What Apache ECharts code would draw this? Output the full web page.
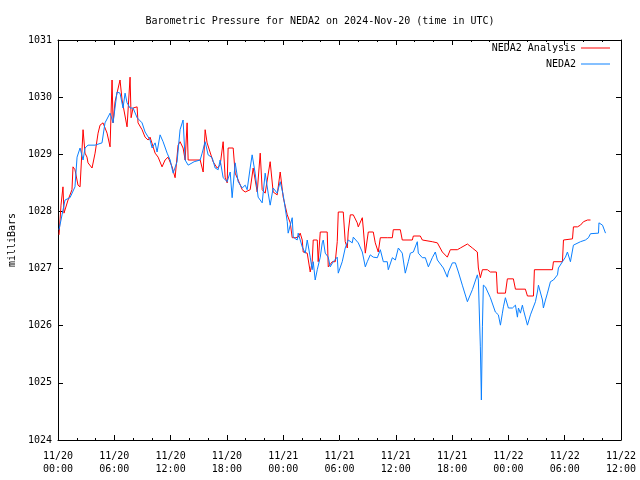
<!DOCTYPE html>
<html>
<head>
<meta charset="utf-8">
<script src="https://cdn.jsdelivr.net/npm/echarts@6/dist/echarts.min.js"></script>
<style>html,body{margin:0;padding:0;background:#fff}#c{width:640px;height:480px}</style>
</head>
<body>
<div id="c"></div>
<script>
const titleText = 'Barometric Pressure for NEDA2 on 2024-Nov-20 (time in UTC)';
const seriesNames = ['NEDA2 Analysis', 'NEDA2'];
const xTickLabels = ['11/20\n00:00','11/20\n06:00','11/20\n12:00','11/20\n18:00','11/21\n00:00','11/21\n06:00','11/21\n12:00','11/21\n18:00','11/22\n00:00','11/22\n06:00','11/22\n12:00'];
const yTicks = [1024,1025,1026,1027,1028,1029,1030,1031];

// hours since 2024-11-20 00:00 UTC
const anaHours = [0.11,0.32,0.53,0.64,1.07,1.49,1.60,1.81,2.13,2.35,2.67,2.88,3.09,3.20,3.63,3.95,4.27,4.48,4.80,5.23,5.55,5.76,5.87,6.08,6.61,6.83,7.36,7.68,7.79,8.00,8.43,8.53,8.96,9.28,9.60,9.81,10.35,10.67,11.09,11.41,11.73,12.16,12.48,12.80,13.01,13.33,13.55,13.76,13.87,15.15,15.47,15.68,15.89,16.53,16.96,17.28,17.60,17.81,18.03,18.13,18.67,18.88,19.20,19.63,19.95,20.48,20.80,21.23,21.55,21.76,22.08,22.61,22.93,23.36,23.68,24.00,24.43,24.75,24.96,25.28,25.60,25.81,26.03,26.13,26.56,26.88,27.09,27.20,27.63,27.73,27.95,28.69,28.80,29.23,29.55,29.76,29.87,30.40,30.61,30.83,30.93,31.15,31.47,31.89,32.00,32.43,32.53,32.75,32.96,33.07,33.60,33.81,34.13,34.35,35.09,35.63,35.73,36.48,36.69,37.76,37.87,38.61,38.83,39.89,40.43,40.96,41.49,41.81,42.56,42.88,43.63,44.16,44.69,44.80,45.01,45.23,45.76,46.08,46.72,46.83,47.68,47.89,48.53,48.75,49.81,50.03,50.67,50.77,52.69,52.80,53.76,53.87,54.83,54.93,55.36,55.68,56.00,56.43,56.75];
const anaValues = [1027.59,1028.11,1028.43,1027.97,1028.20,1028.38,1028.78,1028.73,1028.46,1028.43,1029.43,1029.02,1028.95,1028.85,1028.76,1029.02,1029.37,1029.51,1029.55,1029.37,1029.13,1030.30,1029.55,1029.92,1030.30,1029.95,1029.48,1030.35,1029.64,1029.81,1029.83,1029.55,1029.43,1029.30,1029.25,1029.30,1029.02,1028.95,1028.78,1028.90,1028.95,1028.78,1028.59,1029.16,1029.22,1029.11,1028.90,1029.55,1028.90,1028.90,1028.69,1029.43,1029.20,1028.87,1028.76,1028.81,1029.22,1028.60,1028.50,1029.11,1029.11,1028.67,1028.55,1028.38,1028.34,1028.38,1028.76,1028.34,1029.02,1028.38,1028.32,1028.87,1028.34,1028.29,1028.69,1028.25,1027.94,1027.80,1027.54,1027.54,1027.55,1027.62,1027.50,1027.29,1027.27,1026.94,1027.12,1027.50,1027.50,1027.12,1027.64,1027.64,1027.03,1027.12,1027.12,1027.47,1027.99,1027.99,1027.47,1027.36,1027.64,1027.94,1027.94,1027.80,1027.73,1027.89,1027.71,1027.27,1027.24,1027.64,1027.64,1027.45,1027.29,1027.54,1027.54,1027.54,1027.68,1027.68,1027.50,1027.50,1027.57,1027.57,1027.50,1027.47,1027.45,1027.29,1027.20,1027.33,1027.33,1027.36,1027.43,1027.36,1027.29,1027.01,1026.84,1026.98,1026.98,1026.94,1026.94,1026.57,1026.57,1026.82,1026.82,1026.64,1026.64,1026.52,1026.52,1026.98,1026.98,1027.12,1027.12,1027.50,1027.52,1027.73,1027.73,1027.76,1027.82,1027.85,1027.85];

const obsHours = [0.11,0.43,0.75,1.28,1.81,2.03,2.35,2.67,2.88,3.20,3.95,4.69,5.01,5.55,5.87,6.29,6.61,6.93,7.15,7.36,7.68,8.00,8.43,8.96,9.28,9.81,10.03,10.35,10.56,10.88,11.20,11.63,11.95,12.27,12.69,13.01,13.33,13.55,13.87,14.51,15.15,15.36,15.68,16.00,16.43,16.75,17.07,17.28,17.60,18.03,18.35,18.56,18.88,19.20,19.63,19.95,20.16,20.48,20.69,21.01,21.33,21.76,22.08,22.40,22.61,22.93,23.36,23.68,24.00,24.43,24.53,24.96,25.07,25.49,25.60,26.03,26.35,26.56,26.88,27.09,27.20,27.41,27.63,27.95,28.16,28.27,28.48,28.80,29.01,29.33,29.76,29.87,30.29,30.61,30.93,31.36,31.47,32.00,32.43,32.75,32.96,33.28,33.60,34.03,34.35,34.67,35.09,35.20,35.63,35.95,36.27,36.69,37.01,37.33,37.55,37.87,38.29,38.40,38.83,39.15,39.47,39.89,40.21,40.43,41.07,41.49,41.60,42.03,42.35,42.67,43.09,43.63,44.16,44.69,44.80,45.01,45.12,45.23,45.33,45.55,46.08,46.61,46.93,47.15,47.36,47.47,47.68,48.00,48.43,48.75,48.96,49.07,49.28,49.49,49.60,50.03,50.35,50.56,50.88,51.09,51.20,51.63,51.73,51.95,52.16,52.48,52.80,53.23,53.33,53.76,54.08,54.29,54.61,54.93,55.68,56.21,56.53,56.75,57.60,57.65,57.81,58.03,58.35];
const obsValues = [1027.68,1027.94,1028.20,1028.24,1028.43,1028.95,1029.11,1028.90,1029.11,1029.16,1029.16,1029.20,1029.55,1029.72,1029.55,1030.09,1030.07,1029.81,1030.07,1029.90,1029.81,1029.81,1029.64,1029.55,1029.39,1029.25,1029.11,1029.20,1029.04,1029.34,1029.22,1029.02,1028.90,1028.67,1028.87,1029.43,1029.60,1028.90,1028.81,1028.87,1028.90,1029.02,1029.22,1028.99,1028.94,1028.76,1028.73,1028.90,1028.59,1028.52,1028.69,1028.24,1028.85,1028.52,1028.41,1028.46,1028.38,1028.76,1028.99,1028.67,1028.25,1028.15,1028.67,1028.32,1028.11,1028.41,1028.32,1028.52,1028.29,1027.82,1027.62,1027.89,1027.55,1027.50,1027.62,1027.38,1027.27,1027.50,1027.20,1026.98,1027.12,1026.80,1026.98,1027.20,1027.45,1027.50,1027.27,1027.20,1027.03,1027.12,1027.20,1026.92,1027.12,1027.36,1027.50,1027.45,1027.55,1027.45,1027.29,1027.03,1027.12,1027.24,1027.20,1027.19,1027.33,1027.12,1027.12,1026.98,1027.19,1027.15,1027.36,1027.27,1026.92,1027.12,1027.27,1027.29,1027.47,1027.27,1027.19,1027.19,1027.03,1027.19,1027.29,1027.15,1027.01,1026.85,1026.94,1027.10,1027.10,1026.94,1026.71,1026.42,1026.63,1026.89,1026.80,1025.63,1024.70,1025.98,1026.71,1026.68,1026.49,1026.24,1026.19,1026.01,1026.22,1026.33,1026.49,1026.31,1026.31,1026.36,1026.15,1026.31,1026.22,1026.36,1026.28,1026.01,1026.19,1026.22,1026.42,1026.59,1026.71,1026.45,1026.31,1026.45,1026.57,1026.77,1026.80,1026.89,1027.01,1027.12,1027.20,1027.29,1027.12,1027.41,1027.47,1027.50,1027.54,1027.61,1027.62,1027.80,1027.82,1027.76,1027.62];

const FONT = 'DejaVu Sans Mono';
const COLORS = ['#ff0000', '#0a80ff'];
const zip = (a, b) => a.map((h, i) => [h, b[i]]);
const LEG_ICON = 'path://M0,0M29,12M0,5.5L29,5.5L29,6.5L0,6.5Z';

const chart = echarts.init(document.getElementById('c'), null, {renderer: 'canvas'});
const xCommon = {
  type: 'value', min: 0, max: 60, interval: 6,
  axisLine: {show: true, onZero: false, lineStyle: {color: '#000', width: 1}},
  axisTick: {show: true, inside: true, length: 5, lineStyle: {color: '#000'}},
  minorTick: {show: true, splitNumber: 3, length: 2, lineStyle: {color: '#000'}},
  splitLine: {show: false}
};
const yCommon = {
  type: 'value', min: yTicks[0], max: yTicks[yTicks.length - 1], interval: 1,
  axisLine: {show: true, onZero: false, lineStyle: {color: '#000', width: 1}},
  axisTick: {show: true, inside: true, length: 5, lineStyle: {color: '#000'}},
  splitLine: {show: false}
};
chart.setOption({
  animation: false,
  backgroundColor: '#fff',
  textStyle: {fontFamily: FONT},
  title: {
    text: titleText, left: 'center', top: 11,
    textStyle: {fontFamily: FONT, fontSize: 10, fontWeight: 'normal', color: '#000'}
  },
  legend: {
    orient: 'vertical', right: 25, top: 37, align: 'right',
    itemWidth: 29, itemHeight: 12, itemGap: 4,
    textStyle: {fontFamily: FONT, fontSize: 10, color: '#000'},
    data: seriesNames.map((n, i) => ({name: n, icon: LEG_ICON, itemStyle: {color: COLORS[i]}}))
  },
  grid: {left: 58, right: 19, top: 40, bottom: 40, containLabel: false, outerBoundsMode: 'none'},
  xAxis: [
    Object.assign({}, xCommon, {
      position: 'bottom',
      axisLabel: {
        show: true, margin: 10, color: '#000', fontFamily: FONT, fontSize: 10, lineHeight: 13,
        formatter: v => xTickLabels[Math.round(v / 6)]
      }
    }),
    Object.assign({}, xCommon, {position: 'top', axisLabel: {show: false}})
  ],
  yAxis: [
    Object.assign({}, yCommon, {
      position: 'left',
      name: 'milliBars', nameLocation: 'middle', nameGap: 41, nameRotate: 90, nameMoveOverlap: false,
      nameTextStyle: {fontFamily: FONT, fontSize: 10, color: '#000'},
      axisLabel: {show: true, margin: 6, color: '#000', fontFamily: FONT, fontSize: 10,
        formatter: v => String(v)}
    }),
    Object.assign({}, yCommon, {position: 'right', axisLabel: {show: false}})
  ],
  series: [
    {
      name: seriesNames[0], type: 'line', xAxisIndex: 0, yAxisIndex: 0,
      data: zip(anaHours, anaValues), showSymbol: false, symbol: 'none',
      lineStyle: {color: COLORS[0], width: 1}, itemStyle: {color: COLORS[0]}
    },
    {
      name: seriesNames[1], type: 'line', xAxisIndex: 0, yAxisIndex: 0,
      data: zip(obsHours, obsValues), showSymbol: false, symbol: 'none',
      lineStyle: {color: COLORS[1], width: 1}, itemStyle: {color: COLORS[1]}
    }
  ]
});
</script>
</body>
</html>
